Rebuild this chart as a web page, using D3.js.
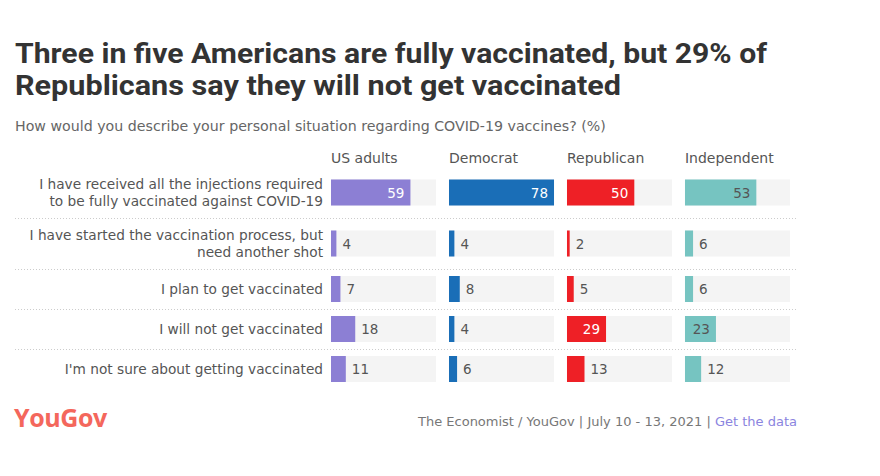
<!DOCTYPE html>
<html><head><meta charset="utf-8">
<script src="https://cdn.jsdelivr.net/npm/d3@7"></script>
<style>
body{margin:0;background:#fff;}
svg{display:block;font-family:"DejaVu Sans",sans-serif;}
</style></head>
<body><svg id="c" width="880" height="476"></svg>
<script>
const categories = [
  "I have received all the injections required\nto be fully vaccinated against COVID-19",
  "I have started the vaccination process, but\nneed another shot",
  "I plan to get vaccinated",
  "I will not get vaccinated",
  "I'm not sure about getting vaccinated"
];
const groups = ["US adults","Democrat","Republican","Independent"];
const usAdults    = [59, 4, 7, 18, 11];
const democrat    = [78, 4, 8, 4, 6];
const republican  = [50, 2, 5, 29, 13];
const independent = [53, 6, 6, 23, 12];
const colors = ["#8c7fd4","#1a6eb7","#ee2026","#76c4c1"];
const labelInside = ["#fff","#fff","#fff","#555"];

const series = [usAdults, democrat, republican, independent];
const svg = d3.select("#c");

// Title
const titleFont = "Roboto, sans-serif";
svg.append("text").attr("x",15).attr("y",63).attr("font-family",titleFont).attr("font-size",27).attr("font-weight",700).attr("fill","#333")
  .attr("textLength",752).attr("lengthAdjust","spacingAndGlyphs")
  .text("Three in five Americans are fully vaccinated, but 29% of");
svg.append("text").attr("x",15).attr("y",95).attr("font-family",titleFont).attr("font-size",27).attr("font-weight",700).attr("fill","#333")
  .attr("textLength",606).attr("lengthAdjust","spacingAndGlyphs")
  .text("Republicans say they will not get vaccinated");
svg.append("text").attr("x",15).attr("y",131).attr("font-size",14.2).attr("fill","#666")
  .text("How would you describe your personal situation regarding COVID-19 vaccines? (%)");

// Layout
const panelX = d3.scaleBand().domain(groups).range([331, 790]).paddingInner(0.11).paddingOuter(0);
const maxV = d3.max(series.flat());
const x = d3.scaleLinear().domain([0, maxV]).range([0, panelX.bandwidth()]);

const rowH = categories.map(c => c.includes("\n") ? 51 : 40);
const rowTop = [];
let acc = 167;
rowH.forEach(h => { rowTop.push(acc); acc += h; });
const barH = 26;

// Headers
groups.forEach(g => {
  svg.append("text").attr("x", panelX(g)).attr("y",163).attr("font-size",14).attr("fill","#555").text(g);
});

categories.forEach((cat, i) => {
  const cy = rowTop[i] + rowH[i]/2;
  if (i < categories.length - 1) {
    svg.append("line").attr("x1",15).attr("x2",797)
      .attr("y1", rowTop[i]+rowH[i]+0.5).attr("y2", rowTop[i]+rowH[i]+0.5)
      .attr("stroke","#ccc").attr("stroke-width",1).attr("stroke-dasharray","1,2");
  }
  const lines = cat.split("\n");
  const t = svg.append("text").attr("text-anchor","end").attr("font-size",13.7).attr("fill","#555");
  lines.forEach((l, k) => {
    t.append("tspan").attr("x",323).attr("y", cy + (k - (lines.length-1)/2)*17 + 5).text(l);
  });
  groups.forEach((g, j) => {
    const v = series[j][i];
    const bx = panelX(g);
    const by = cy - barH/2;
    svg.append("rect").attr("x",bx).attr("y",by).attr("width",panelX.bandwidth()).attr("height",barH).attr("fill","#f4f4f4");
    svg.append("rect").attr("x",bx).attr("y",by).attr("width",x(v)).attr("height",barH).attr("fill",colors[j]);
    const inside = v >= 20;
    svg.append("text")
      .attr("x", inside ? bx + x(v) - 6 : bx + x(v) + 6)
      .attr("y", cy + 5)
      .attr("text-anchor", inside ? "end" : "start")
      .attr("font-size",13.5)
      .attr("fill", inside ? labelInside[j] : "#555")
      .text(v);
  });
});

// Footer
svg.append("text").attr("x",14).attr("y",427).attr("font-family","'Open Sans', sans-serif").attr("font-size",25).attr("font-weight",700).attr("fill","#f4675c")
  .attr("letter-spacing",-0.4).text("YouGov");
const ft = svg.append("text").attr("x",797).attr("y",426).attr("text-anchor","end").attr("font-size",13).attr("fill","#777");
ft.append("tspan").text("The Economist / YouGov | July 10 - 13, 2021 | ");
ft.append("tspan").attr("fill","#8b84e0").text("Get the data");
</script></body></html>
